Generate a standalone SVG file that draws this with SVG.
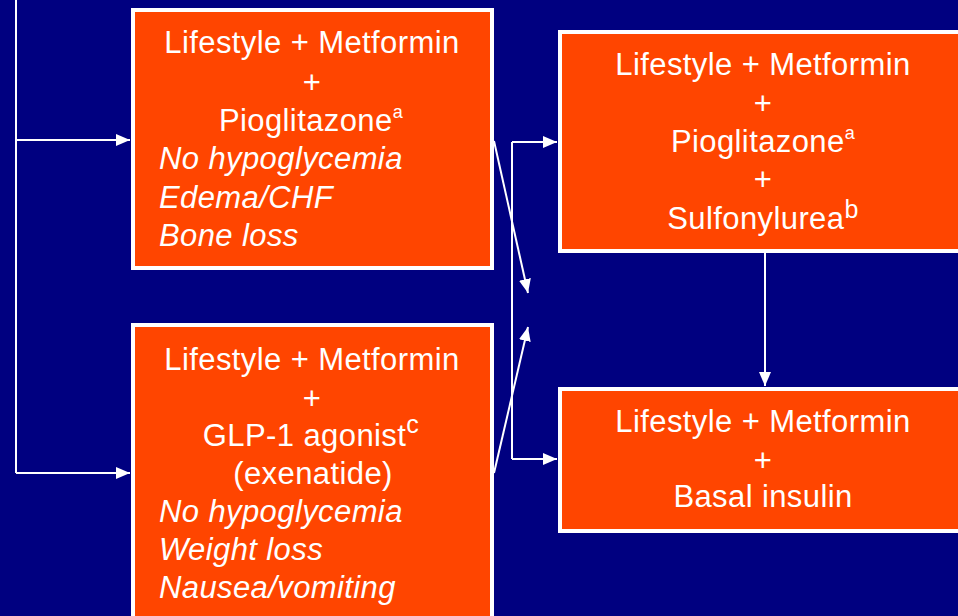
<svg xmlns="http://www.w3.org/2000/svg" width="958" height="616" viewBox="0 0 958 616">
<defs>
<style>
.box{fill:#FF4500;stroke:#FFFFFF;stroke-width:4}
.t{font-family:"Liberation Sans",Arial,sans-serif;font-size:31px;fill:#FFFFFF;letter-spacing:0.4px}
.c{text-anchor:middle}
.i{font-style:italic}
.sa{font-size:18px}
.sb{font-size:25px}
.con{stroke:#FFFFFF;stroke-width:2;fill:none}
</style>
<marker id="ah" markerUnits="userSpaceOnUse" markerWidth="14" markerHeight="12" refX="14" refY="6" orient="auto">
<path d="M0,0 L14,6 L0,12 z" fill="#FFFFFF"/>
</marker>
</defs>
<rect width="958" height="616" fill="#000080"/>
<g id="connectors">
<path class="con" d="M16,0 V473"/>
<path class="con" d="M16,140 H130" marker-end="url(#ah)"/>
<path class="con" d="M16,473 H130" marker-end="url(#ah)"/>
<path class="con" d="M494,141 L528,293" marker-end="url(#ah)"/>
<path class="con" d="M494,473 L528,327" marker-end="url(#ah)"/>
<path class="con" d="M512,142 V459"/>
<path class="con" d="M512,142 H557" marker-end="url(#ah)"/>
<path class="con" d="M512,459 H557" marker-end="url(#ah)"/>
<path class="con" d="M765,253 V386" marker-end="url(#ah)"/>
</g>
<g id="pioglitazone">
<rect class="box" x="133" y="10" width="359" height="258"/>
<text class="t c" x="312" y="53">Lifestyle + Metformin</text>
<text class="t c" x="312" y="93">+</text>
<text class="t c" x="311" y="131">Pioglitazone<tspan class="sa" dy="-13">a</tspan></text>
<text class="t i" x="159" y="169">No hypoglycemia</text>
<text class="t i" x="159" y="208">Edema/CHF</text>
<text class="t i" x="159" y="246">Bone loss</text>
</g>
<g id="glp1">
<rect class="box" x="133" y="325" width="359" height="320"/>
<text class="t c" x="312" y="370">Lifestyle + Metformin</text>
<text class="t c" x="312" y="409">+</text>
<text class="t c" x="311" y="446">GLP-1 agonist<tspan class="sb" dy="-13">c</tspan></text>
<text class="t c" x="313" y="484">(exenatide)</text>
<text class="t i" x="159" y="522">No hypoglycemia</text>
<text class="t i" x="159" y="560">Weight loss</text>
<text class="t i" x="159" y="598">Nausea/vomiting</text>
</g>
<g id="pio-su">
<rect class="box" x="560" y="32" width="420" height="219"/>
<text class="t c" x="763" y="75">Lifestyle + Metformin</text>
<text class="t c" x="763" y="114">+</text>
<text class="t c" x="763" y="152">Pioglitazone<tspan class="sa" dy="-13">a</tspan></text>
<text class="t c" x="763" y="190">+</text>
<text class="t c" x="763" y="229">Sulfonylurea<tspan class="sb" dy="-11">b</tspan></text>
</g>
<g id="basal">
<rect class="box" x="560" y="389" width="420" height="142"/>
<text class="t c" x="763" y="432">Lifestyle + Metformin</text>
<text class="t c" x="763" y="471">+</text>
<text class="t c" x="763" y="507">Basal insulin</text>
</g>
</svg>
